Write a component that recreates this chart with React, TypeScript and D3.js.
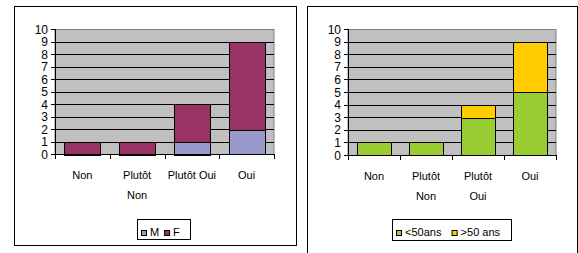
import * as d3 from "d3";

// data
const categoriesA = [["Non"], ["Plutôt", "Non"], ["Plutôt Oui"], ["Oui"]];
const categoriesB = [["Non"], ["Plutôt", "Non"], ["Plutôt", "Oui"], ["Oui"]];
const valuesM = [0, 0, 1, 2];
const valuesF = [1, 1, 3, 7];
const valuesUnder50 = [1, 1, 3, 5];
const valuesOver50 = [0, 0, 1, 4];
const yTicks = [0, 1, 2, 3, 4, 5, 6, 7, 8, 9, 10];

const FONT = "Arial, 'Liberation Sans', sans-serif";

type Series = { name: string; values: number[]; color: string };
interface PanelProps {
  frame: { x: number; y: number; w: number; h: number };
  plot: { left: number; right: number; top: number; bottom: number };
  categories: string[][];
  series: Series[];
  barPadding: number;
  legend: { x: number; y: number; w: number; h: number; gaps: number[] };
}

const Panel = ({ frame, plot, categories, series, barPadding, legend }: PanelProps) => {
  const keys = categories.map((c) => c.join(" "));
  const rows = keys.map((k, i) => {
    const r: any = { cat: k };
    series.forEach((s) => (r[s.name] = s.values[i]));
    return r;
  });
  const stacked = d3.stack<any>().keys(series.map((s) => s.name))(rows);

  const xScale = d3
    .scaleBand()
    .domain(keys)
    .range([plot.left, plot.right])
    .paddingInner(barPadding)
    .paddingOuter(barPadding / 2);
  const yScale = d3.scaleLinear().domain([0, 10]).range([plot.bottom, plot.top]);
  const step = xScale.step();

  let lx = legend.x + 4;
  const legendItems = series.map((s, i) => {
    const sx = lx;
    const textW = s.name.length * 6.1;
    lx = sx + 9 + textW + legend.gaps[i];
    return (
      <g key={s.name}>
        <rect x={sx + 0.5} y={legend.y + 11.5} width={5} height={5} fill={s.color} stroke="#000" />
        <text x={sx + 9} y={legend.y + 17} fontSize={11} fontFamily={FONT}>
          {s.name}
        </text>
      </g>
    );
  });

  return (
    <g>
      <rect x={frame.x + 0.5} y={frame.y + 0.5} width={frame.w} height={frame.h} fill="#fff" stroke="#000" />
      <rect
        x={plot.left}
        y={plot.top + 0.5}
        width={plot.right - plot.left}
        height={plot.bottom - plot.top}
        fill="#c0c0c0"
        stroke="#808080"
      />
      {yTicks.slice(1, -1).map((t) => (
        <line key={t} x1={plot.left} x2={plot.right} y1={Math.round(yScale(t)) + 0.5} y2={Math.round(yScale(t)) + 0.5} stroke="#000" />
      ))}
      {stacked.map((layer, li) =>
        layer.map((d, i) => {
          const h = yScale(d[0]) - yScale(d[1]);
          if (h <= 0) return null;
          return (
            <rect
              key={`${li}-${i}`}
              x={Math.round(xScale(keys[i])!) + 0.5}
              y={Math.round(yScale(d[1])) + 0.5}
              width={Math.round(xScale.bandwidth())}
              height={Math.round(h)}
              fill={series[li].color}
              stroke="#000"
            />
          );
        })
      )}
      {/* y axis */}
      <line x1={plot.left + 0.5} x2={plot.left + 0.5} y1={plot.top} y2={plot.bottom + 1} stroke="#000" />
      {yTicks.map((t) => (
        <g key={t}>
          <line x1={plot.left - 4} x2={plot.left} y1={Math.round(yScale(t)) + 0.5} y2={Math.round(yScale(t)) + 0.5} stroke="#000" />
          <text x={plot.left - 7} y={yScale(t) + 4.5} textAnchor="end" fontSize={12} fontFamily={FONT}>
            {t}
          </text>
        </g>
      ))}
      {/* x axis */}
      <line x1={plot.left} x2={plot.right} y1={plot.bottom + 0.5} y2={plot.bottom + 0.5} stroke="#000" />
      {d3.range(keys.length + 1).map((i) => {
        const x = Math.round(plot.left + i * step) + 0.5;
        return <line key={i} x1={x} x2={x} y1={plot.bottom} y2={plot.bottom + 5} stroke="#000" />;
      })}
      {categories.map((lines, i) => (
        <text
          key={i}
          x={xScale(keys[i])! + xScale.bandwidth() / 2}
          y={plot.bottom + 25}
          textAnchor="middle"
          fontSize={11}
          fontFamily={FONT}
        >
          {lines.map((l, j) => (
            <tspan key={j} x={xScale(keys[i])! + xScale.bandwidth() / 2} dy={j === 0 ? 0 : 20}>
              {l}
            </tspan>
          ))}
        </text>
      ))}
      {/* legend */}
      <rect x={legend.x + 0.5} y={legend.y + 0.5} width={legend.w} height={legend.h} fill="#fff" stroke="#000" />
      {legendItems}
    </g>
  );
};

const App = () => {
  return (
    <svg width={578} height={253} style={{ position: "absolute", left: 0, top: 0 }}>
      <Panel
        frame={{ x: 14, y: 6, w: 282, h: 239 }}
        plot={{ left: 55, right: 274, top: 29, bottom: 154 }}
        categories={categoriesA}
        series={[
          { name: "M", values: valuesM, color: "#9999cc" },
          { name: "F", values: valuesF, color: "#993366" },
        ]}
        barPadding={0.34}
        legend={{ x: 137, y: 219, w: 53, h: 20, gaps: [8, 0] }}
      />
      <Panel
        frame={{ x: 307, y: 6, w: 270, h: 260 }}
        plot={{ left: 348, right: 556, top: 29, bottom: 155 }}
        categories={categoriesB}
        series={[
          { name: "<50ans", values: valuesUnder50, color: "#99cc33" },
          { name: ">50 ans", values: valuesOver50, color: "#ffcc00" },
        ]}
        barPadding={0.35}
        legend={{ x: 392, y: 219, w: 119, h: 21, gaps: [10, 0] }}
      />
    </svg>
  );
};

export default App;
